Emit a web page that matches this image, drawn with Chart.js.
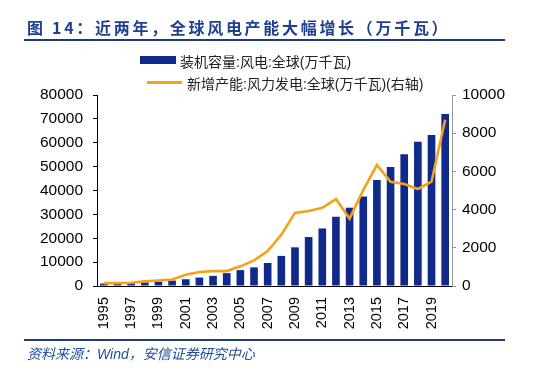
<!DOCTYPE html>
<html>
<head>
<meta charset="utf-8">
<script src="https://cdn.jsdelivr.net/npm/chart.js@4"></script>
<style>
  html, body { margin: 0; padding: 0; background: #fff; }
  #wrap { position: relative; width: 543px; height: 374px; overflow: hidden; font-family: "Liberation Sans", "Noto Sans CJK SC", sans-serif; }
  #chart { position: absolute; left: 0; top: 0; }
  .title { position: absolute; left: 27px; top: 15px; font: bold 16px "Noto Sans CJK SC", sans-serif; color: #1f3f8f; letter-spacing: 2.7px; white-space: nowrap; }
  .rule { position: absolute; left: 24px; width: 481px; height: 2px; background: #1f3a78; }
  .legend { position: absolute; font: 14px "Liberation Sans", "Noto Sans CJK SC", sans-serif; color: #222; white-space: nowrap; }
  .legend .box { position: absolute; left: 0; width: 36px; height: 8px; background: #102a8c; }
  .legend .ln { position: absolute; left: 0; width: 35px; height: 3px; background: #f5a11c; }
  .source { position: absolute; left: 27px; top: 343px; font: italic 14px "Liberation Sans", "Noto Sans CJK SC", sans-serif; color: #1f4e9a; white-space: nowrap; }
</style>
</head>
<body>
<div id="wrap">
  <canvas id="chart" width="543" height="374"></canvas>
  <div class="title">图 14：近两年，全球风电产能大幅增长（万千瓦）</div>
  <div class="rule" style="top:39px"></div>
  <div class="legend" style="left:140px; top:51px;"><span class="box" style="top:5px"></span><span style="margin-left:40px">装机容量:风电:全球(万千瓦)</span></div>
  <div class="legend" style="left:147px; top:73px;"><span class="ln" style="top:8px"></span><span style="margin-left:40px">新增产能:风力发电:全球(万千瓦)(右轴)</span></div>
  <div class="rule" style="top:339px"></div>
  <div class="source">资料来源：Wind，安信证券研究中心</div>
</div>
<script>
// data
const years = ['1995', '1996', '1997', '1998', '1999', '2000', '2001', '2002', '2003', '2004', '2005', '2006', '2007',
  '2008', '2009', '2010', '2011', '2012', '2013', '2014', '2015', '2016', '2017', '2018', '2019', '2020'];
const capacity = [1000, 1250, 1400, 1560, 1840, 2270, 2830, 3540, 4250, 5380, 6650, 7800, 9630,
  12600, 16200, 20500, 24100, 29000, 32800, 37500, 44400, 49800, 55200, 60400, 63200, 72000];
const newCapacity = [150, 150, 170, 240, 290, 340, 590, 730, 780, 780, 1030, 1340, 1830,
  2690, 3830, 3930, 4090, 4550, 3530, 5020, 6340, 5460, 5340, 5080, 5460, 8700];
const leftTicks = [0, 10000, 20000, 30000, 40000, 50000, 60000, 70000, 80000];
const rightTicks = [0, 2000, 4000, 6000, 8000, 10000];

const tickFont = { family: '"Liberation Sans", Arial, sans-serif', size: 15.5 };

new Chart(document.getElementById('chart'), {
    data: {
        labels: years,
        datasets: [
            { type: 'line', label: '新增产能:风力发电:全球(万千瓦)(右轴)', data: newCapacity, yAxisID: 'y1', borderColor: '#f5a11c', borderWidth: 2.6, pointRadius: 0, tension: 0, order: 0 },
            { type: 'bar', label: '装机容量:风电:全球(万千瓦)', data: capacity, yAxisID: 'y', backgroundColor: '#102a8c', categoryPercentage: 1, barPercentage: 0.56, order: 1 }
        ]
    },
    options: {
        responsive: false,
        animation: false,
        layout: { padding: { top: 95, bottom: 36, left: 0, right: 0 } },
        plugins: { legend: { display: false }, tooltip: { enabled: false } },
        scales: {
            x: {
                grid: { display: false },
                border: { color: '#000', width: 1 },
                ticks: { color: '#000', font: { ...tickFont, size: 14.5 }, autoSkip: false, maxRotation: 90, minRotation: 90, padding: 3,
                    callback: (v, i) => i % 2 === 0 ? years[i] : '' },
                afterFit: s => { s.height = 52; }
            },
            y: {
                position: 'left', min: 0, max: 80000,
                grid: { drawOnChartArea: false, tickLength: 4, color: '#000' },
                border: { color: '#000', width: 1 },
                ticks: { color: '#000', font: tickFont, padding: 10, callback: v => String(v) },
                afterBuildTicks: s => { s.ticks = leftTicks.map(v => ({ value: v })); },
                afterFit: s => { s.width = 97; }
            },
            y1: {
                position: 'right', min: 0, max: 10000,
                grid: { drawOnChartArea: false, tickLength: 4, color: '#999' },
                border: { color: '#999', width: 1 },
                ticks: { color: '#000', font: tickFont, padding: 6, callback: v => String(v) },
                afterBuildTicks: s => { s.ticks = rightTicks.map(v => ({ value: v })); },
                afterFit: s => { s.width = 91; }
            }
        }
    }
});
</script>
</body>
</html>
